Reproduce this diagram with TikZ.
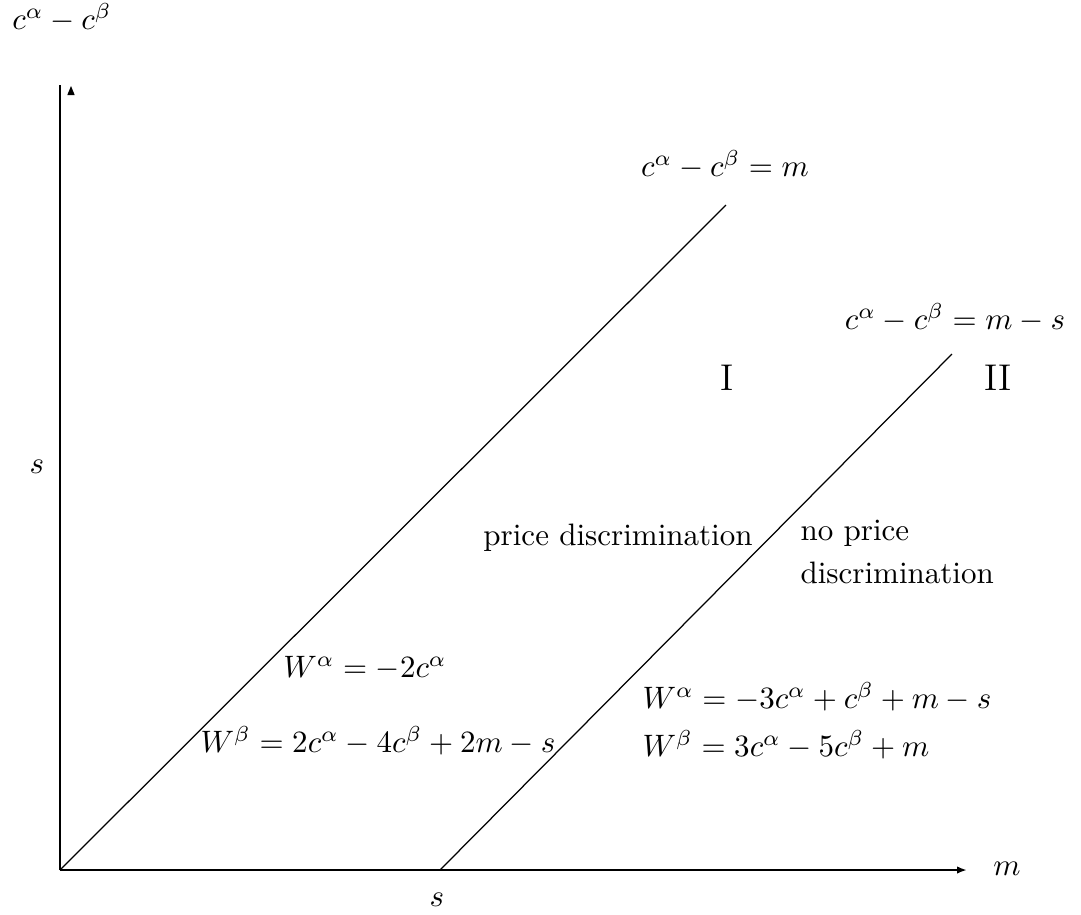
\documentclass[tikz,border=0pt]{standalone}
\usetikzlibrary{arrows.meta}
\begin{document}
\begin{tikzpicture}[x=0.3226pt,y=-0.3226pt,
  axis/.style={line width=0.7pt},
  diag/.style={line width=0.4pt},
  lbl/.style={inner sep=0pt,font=\normalsize},
  region/.style={inner sep=0pt,font=\large}]
\useasboundingbox (0,0) rectangle (1081,914);
% key points
\coordinate (O) at (60,870);
\coordinate (xend) at (967,870);
\coordinate (ytop) at (60,85);
\coordinate (S) at (440,870);
\coordinate (L1end) at (726,205);
\coordinate (L2end) at (952,354);
\coordinate (yt1) at (71,86);
\coordinate (yt2) at (67.3,95);
\coordinate (yt3) at (74.7,95);
% axes
\draw[axis,-{Latex[length=3.2pt,width=2.4pt]}] (O) -- (xend);
\draw[axis] (O) -- (ytop);
\fill (yt1) -- (yt2) -- (yt3) -- cycle;
% lines
\draw[diag] (O) -- (L1end);
\draw[diag] (S) -- (L2end);
% labels
\node[lbl] (ylab) at (62,18) {$c^\alpha - c^\beta$};
\node[lbl] (xlab) at (1007,869) {$m$};
\node[lbl] (ys) at (37,467) {$s$};
\node[lbl] (xs) at (437,900) {$s$};
\node[lbl] (l1) at (725,165) {$c^\alpha - c^\beta = m$};
\node[lbl] (l2) at (955,318) {$c^\alpha - c^\beta = m - s$};
\node[region] (rI) at (727,378) {I};
\node[region] (rII) at (998,378) {II};
\node[lbl] (pd) at (618,538) {price discrimination};
\node[lbl,align=left,anchor=west] (npd) at (800,552) {no price\\[2pt]discrimination};
\node[lbl] (wa1) at (365,668) {$W^\alpha = -2c^\alpha$};
\node[lbl] (wb1) at (378,741) {$W^\beta = 2c^\alpha - 4c^\beta + 2m - s$};
\node[lbl,anchor=west] (wa2) at (642,697) {$W^\alpha = -3c^\alpha + c^\beta + m - s$};
\node[lbl,anchor=west] (wb2) at (642,745) {$W^\beta = 3c^\alpha - 5c^\beta + m$};
\end{tikzpicture}
\end{document}
